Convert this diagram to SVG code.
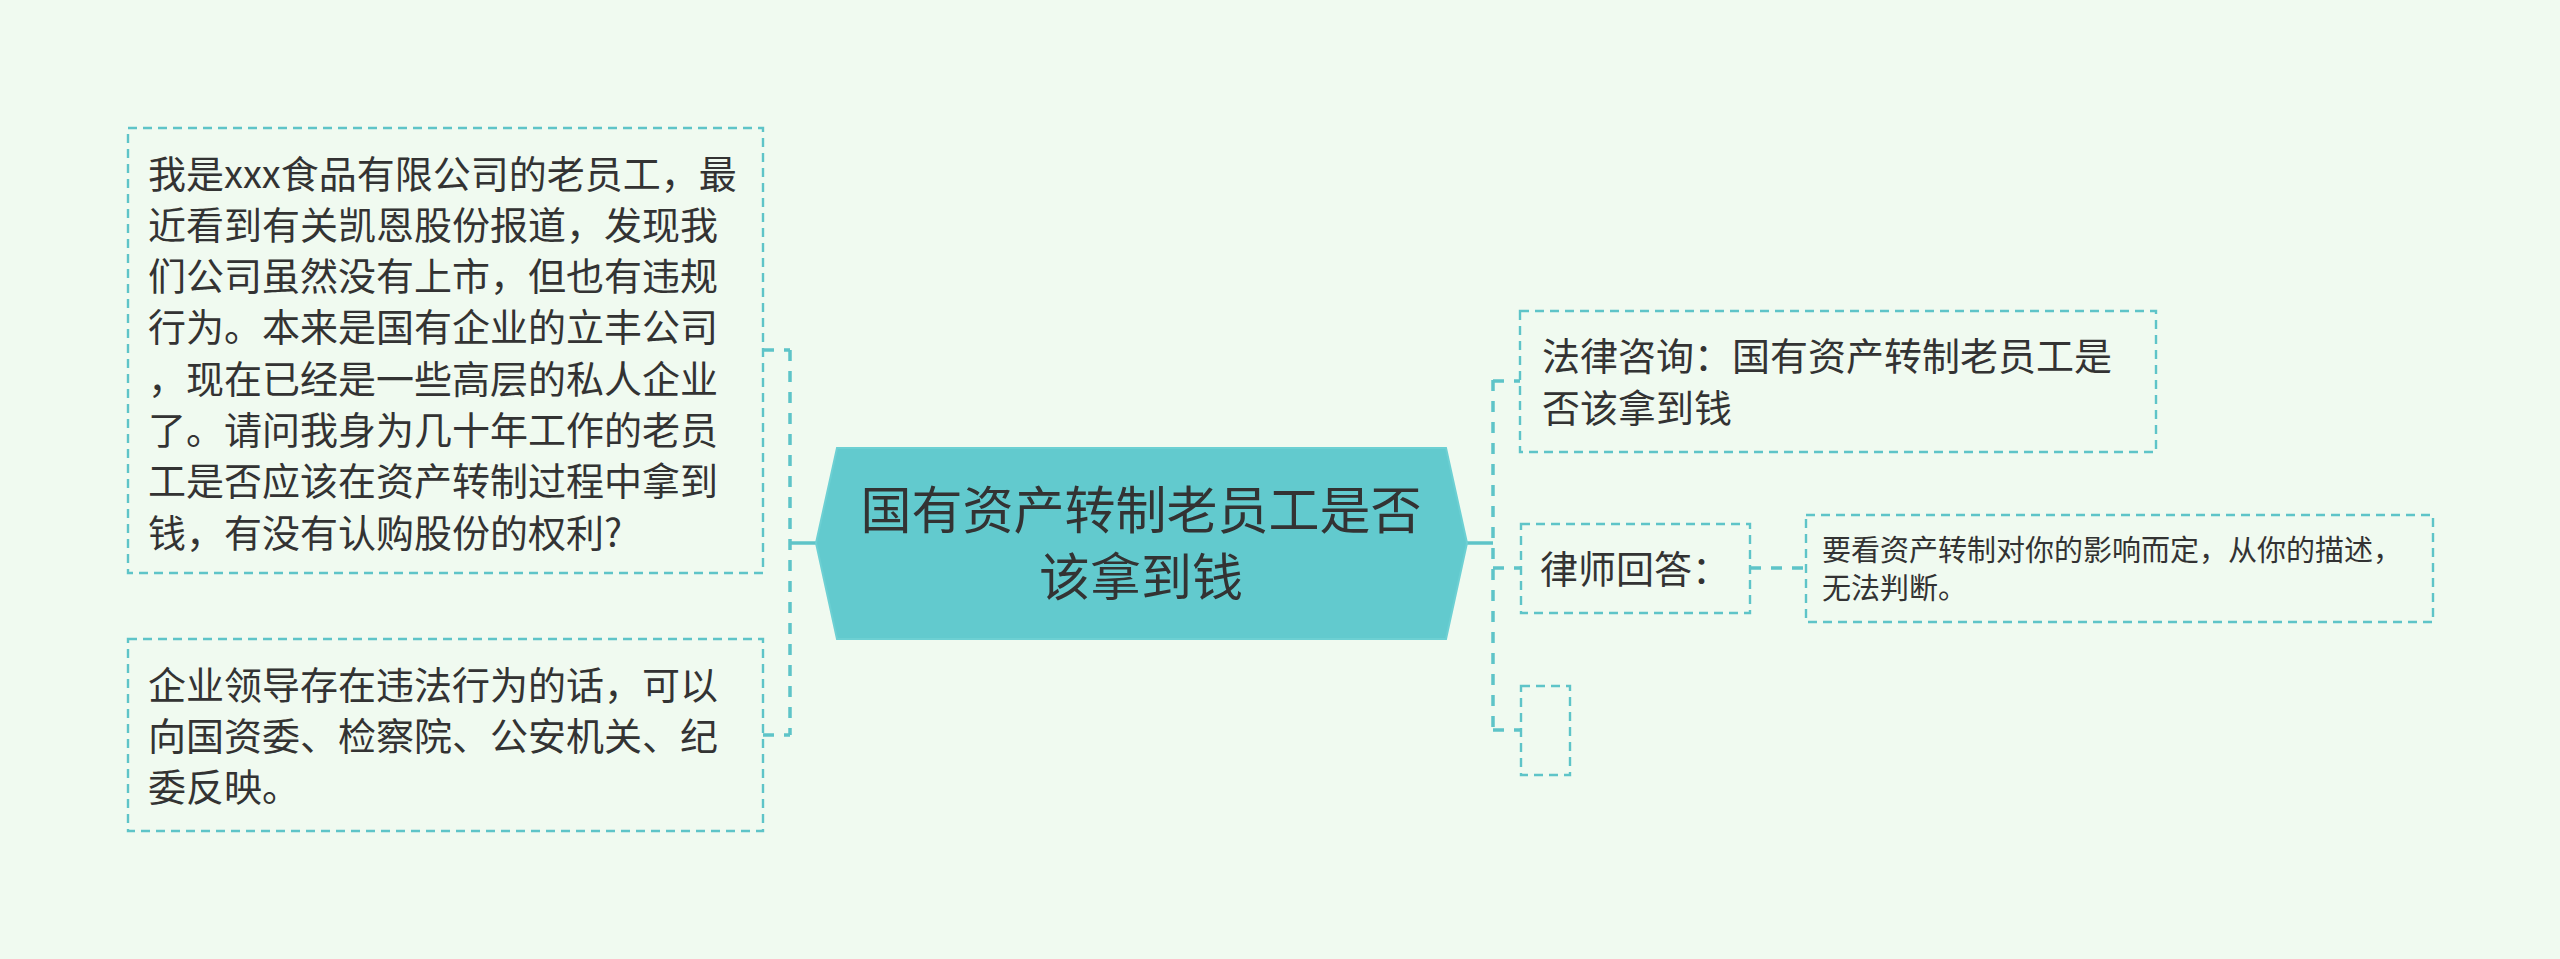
<svg xmlns="http://www.w3.org/2000/svg" width="2560" height="959" viewBox="0 0 2560 959">
<style>
text{font-family:"Noto Sans CJK SC","Noto Sans",sans-serif;fill:#333333}
.box{fill:none;stroke:#5ec4c8;stroke-width:2.4;stroke-dasharray:9 6}
.t38{font-size:38px}
.t29{font-size:29px}
.t51{font-size:51px}
.dash{fill:none;stroke:#5ec4c8;stroke-width:3.5;stroke-dasharray:11 10}
.solid{fill:none;stroke:#5ec4c8;stroke-width:3.5}
</style>
<rect x="0" y="0" width="2560" height="959" fill="#f0faf0"/>
<g id="connectors">
<path class="solid" d="M816 543H790"/>
<path class="dash" d="M790 350V735"/>
<path class="dash" d="M763 350H790M763 735H790"/>
<path class="solid" d="M1467 543H1493"/>
<path class="dash" d="M1493 380V730"/>
<path class="dash" d="M1493 381H1520M1493 568H1521M1493 730H1521"/>
<path class="dash" d="M1750 568H1806"/>
</g>
<g id="central">
<polygon points="816,543 837,448 1446,448 1467,543 1446,639 837,639" fill="#62cace" stroke="#6dd0d3" stroke-width="2"/>
<text class="t51" x="1141" y="529" text-anchor="middle">国有资产转制老员工是否</text>
<text class="t51" x="1141" y="596" text-anchor="middle">该拿到钱</text>
</g>
<g id="question">
<rect class="box" x="128" y="128" width="635" height="445"/>
<text class="t38" x="148">
<tspan x="148" y="187.5">我是xxx食品有限公司的老员工，最</tspan>
<tspan x="148" y="238.8">近看到有关凯恩股份报道，发现我</tspan>
<tspan x="148" y="290.1">们公司虽然没有上市，但也有违规</tspan>
<tspan x="148" y="341.4">行为。本来是国有企业的立丰公司</tspan>
<tspan x="148" y="392.7">，现在已经是一些高层的私人企业</tspan>
<tspan x="148" y="444">了。请问我身为几十年工作的老员</tspan>
<tspan x="148" y="495.3">工是否应该在资产转制过程中拿到</tspan>
<tspan x="148" y="546.6">钱，有没有认购股份的权利?</tspan>
</text>
</g>
<g id="advice">
<rect class="box" x="128" y="639" width="635" height="192"/>
<text class="t38" x="148">
<tspan x="148" y="698.5">企业领导存在违法行为的话，可以</tspan>
<tspan x="148" y="749.8">向国资委、检察院、公安机关、纪</tspan>
<tspan x="148" y="801.1">委反映。</tspan>
</text>
</g>
<g id="consult">
<rect class="box" x="1520" y="311" width="636" height="141"/>
<text class="t38" x="1542">
<tspan x="1542" y="369.5">法律咨询：国有资产转制老员工是</tspan>
<tspan x="1542" y="421.5">否该拿到钱</tspan>
</text>
</g>
<g id="lawyer">
<rect class="box" x="1521" y="524" width="229" height="89"/>
<text class="t38" x="1540" y="582.5">律师回答：</text>
</g>
<g id="answer">
<rect class="box" x="1806" y="515" width="627" height="107"/>
<text class="t29" x="1822">
<tspan x="1822" y="561">要看资产转制对你的影响而定，从你的描述，</tspan>
<tspan x="1822" y="599">无法判断。</tspan>
</text>
</g>
<g id="empty">
<rect class="box" x="1521" y="686" width="49" height="89"/>
</g>
</svg>
